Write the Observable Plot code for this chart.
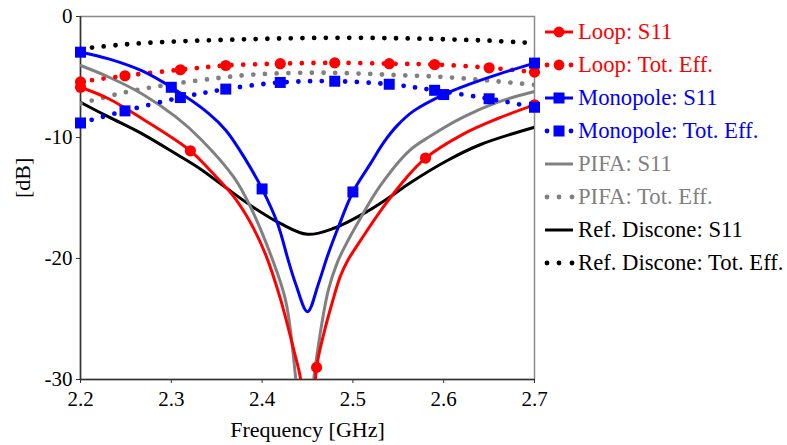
<!DOCTYPE html>
<html><head><meta charset="utf-8">
<script src="https://cdn.jsdelivr.net/npm/d3@7"></script>
<script src="https://cdn.jsdelivr.net/npm/@observablehq/plot@0.6"></script>
<style>
body{margin:0;background:#fff;}
#wrap{position:relative;width:787px;height:445px;font-family:"Liberation Serif","Times New Roman",serif;}
#wrap svg, #wrap svg text{font-family:"Liberation Serif","Times New Roman",serif !important;}
#legend{position:absolute;left:543px;top:16px;}
.row{height:32.9px;display:flex;align-items:center;font-size:22.7px;white-space:nowrap;}
.row svg{margin-right:3px;flex:none;}
</style></head><body><div id="wrap"><div id="legend"></div></div>
<script>
// ---- data (frequency GHz, dB) ----
const xTicks = [2.2, 2.3, 2.4, 2.5, 2.6, 2.7];
const yTicks = [0, -10, -20, -30];

const loopS11 = [[2.20,-5.85],[2.231,-6.8],[2.268,-8.45],[2.321,-11.1],[2.345,-12.9],[2.369,-14.9],[2.387,-17.0],[2.404,-19.7],[2.42,-23.3],[2.435,-27.6],[2.443,-30.2],[2.452,-38],[2.46,-29.0],[2.468,-26.2],[2.477,-23.7],[2.486,-21.5],[2.494,-20.2],[2.512,-18.1],[2.534,-15.7],[2.558,-13.4],[2.58,-11.7],[2.622,-9.7],[2.659,-8.45],[2.70,-7.3]];
const loopS11Markers = [[2.20,-5.85],[2.321,-11.1],[2.46,-29.0],[2.58,-11.7],[2.70,-7.3]];
const loopEff = [[2.20,-5.4],[2.249,-4.9],[2.31,-4.4],[2.36,-4.05],[2.42,-3.9],[2.48,-3.83],[2.54,-3.9],[2.59,-3.97],[2.65,-4.24],[2.70,-4.6]];

const monoS11 = [[2.20,-2.95],[2.231,-3.5],[2.268,-4.5],[2.30,-5.85],[2.341,-8.0],[2.36,-9.4],[2.38,-11.6],[2.40,-14.25],[2.417,-17.1],[2.429,-20.2],[2.437,-22.1],[2.45,-24.4],[2.462,-22.1],[2.472,-19.8],[2.484,-17.4],[2.50,-14.5],[2.519,-12.2],[2.534,-10.4],[2.549,-9.0],[2.567,-7.8],[2.60,-6.45],[2.63,-5.55],[2.659,-4.8],[2.70,-3.85]];
const monoS11Markers = [[2.20,-2.95],[2.30,-5.85],[2.40,-14.25],[2.50,-14.5],[2.60,-6.45],[2.70,-3.85]];
const monoEff = [[2.20,-8.8],[2.249,-7.8],[2.31,-6.7],[2.36,-6.0],[2.42,-5.45],[2.48,-5.35],[2.54,-5.6],[2.59,-6.1],[2.65,-6.8],[2.70,-7.5]];

const pifaS11 = [[2.20,-4.05],[2.231,-5.0],[2.268,-6.4],[2.305,-8.3],[2.332,-10.1],[2.369,-13.3],[2.387,-15.7],[2.411,-20.0],[2.426,-23.5],[2.437,-29.9],[2.446,-38],[2.457,-29.9],[2.464,-26.2],[2.473,-22.6],[2.483,-20.3],[2.494,-18.6],[2.505,-17.1],[2.53,-14.0],[2.562,-11.1],[2.585,-9.9],[2.622,-8.3],[2.659,-7.1],[2.70,-6.2]];
const pifaEff = [[2.20,-7.2],[2.25,-6.25],[2.30,-5.6],[2.35,-5.1],[2.39,-4.8],[2.45,-4.65],[2.50,-4.7],[2.55,-4.85],[2.60,-5.0],[2.65,-5.3],[2.70,-5.65]];

const discS11 = [[2.20,-7.1],[2.231,-8.3],[2.268,-9.7],[2.305,-11.35],[2.332,-12.6],[2.361,-14.2],[2.391,-15.8],[2.42,-17.1],[2.45,-18.0],[2.479,-17.5],[2.516,-16.1],[2.541,-14.9],[2.562,-13.8],[2.604,-11.9],[2.64,-10.6],[2.70,-9.15]];
const discEff = [[2.20,-2.67],[2.25,-2.3],[2.30,-2.08],[2.35,-1.95],[2.40,-1.85],[2.45,-1.78],[2.50,-1.76],[2.55,-1.8],[2.60,-1.88],[2.65,-2.0],[2.70,-2.2]];

const RED = "#ff0000", BLUE = "#0000ff", GRAY = "#808080", BLACK = "#000000";

const series = [
  {name:"Loop: S11", color:RED, data:loopS11, markers:loopS11Markers, symbol:"circle", dotted:false},
  {name:"Loop: Tot. Eff.", color:RED, data:loopEff, markers:loopEff, symbol:"circle", dotted:true},
  {name:"Monopole: S11", color:BLUE, data:monoS11, markers:monoS11Markers, symbol:"square", dotted:false},
  {name:"Monopole: Tot. Eff.", color:BLUE, data:monoEff, markers:monoEff, symbol:"square", dotted:true},
  {name:"PIFA: S11", color:GRAY, data:pifaS11, markers:null, symbol:null, dotted:false},
  {name:"PIFA: Tot. Eff.", color:GRAY, data:pifaEff, markers:null, symbol:null, dotted:true},
  {name:"Ref. Discone: S11", color:BLACK, data:discS11, markers:null, symbol:null, dotted:false},
  {name:"Ref. Discone: Tot. Eff.", color:BLACK, data:discEff, markers:null, symbol:null, dotted:true}
];

const DASH = "0 11.7";
const drawOrder = [6,7,4,5,0,1,2,3];
const lineMarks = [], dotMarks = [];
for (const i of drawOrder) {
  const s = series[i];
  lineMarks.push(Plot.line(s.data, {
    x: d => d[0], y: d => d[1], stroke: s.color, curve: "catmull-rom", clip: true,
    strokeWidth: s.dotted ? 4.8 : 3,
    strokeDasharray: s.dotted ? DASH : null,
    strokeLinecap: "round", strokeLinejoin: "round"
  }));
  if (s.markers) {
    dotMarks.push(Plot.dot(s.markers, {
      x: d => d[0], y: d => d[1], fill: s.color, stroke: "none",
      symbol: s.symbol, r: s.symbol === "square" ? 6.2 : 5.6
    }));
  }
}

const FONT = '"Liberation Serif","Times New Roman",serif';
const chart = Plot.plot({
  width: 787, height: 445,
  marginLeft: 80, marginRight: 253, marginTop: 16, marginBottom: 66,
  style: {fontSize: "21px", color: "#000", background: "transparent", overflow: "visible"},
  x: {domain: [2.2, 2.7]},
  y: {domain: [-30, 0]},
  marks: [
    Plot.frame({stroke: "#8a8a8a", strokeWidth: 1.5}),
    Plot.axisX({ticks: xTicks, tickSize: 4, tickPadding: 8, label: null, tickFormat: d => d.toFixed(1), stroke: "#333"}),
    Plot.axisY({ticks: yTicks, tickSize: 4, tickPadding: 4, label: null, tickFormat: d => String(d), stroke: "#333"}),
    Plot.ruleX([xTicks[0]], {stroke: "#333", strokeWidth: 1.5}),
    Plot.ruleY([yTicks[yTicks.length - 1]], {stroke: "#333", strokeWidth: 1.5}),
    ...lineMarks,
    ...dotMarks,
    Plot.text(["[dB]"], {text: d => d, frameAnchor: "left", dx: -58, rotate: -90, fontSize: 22}),
    Plot.text(["Frequency [GHz]"], {text: d => d, frameAnchor: "bottom", dy: 57, fontSize: 22})
  ]
});
// force serif on every text node of the chart
d3.select(chart).style("font-family", FONT);
d3.select(chart).selectAll("g, text, tspan").attr("font-family", null).style("font-family", FONT);
document.getElementById("wrap").prepend(chart);

// ---- legend ----
const legend = d3.select("#legend");
for (const s of series) {
  const row = legend.append("div").attr("class", "row").style("color", s.color);
  const svg = row.append("svg").attr("width", 32).attr("height", 20);
  if (s.dotted) {
    const xs = s.markers ? [4, 28] : [4, 16, 29];
    for (const x of xs) svg.append("circle").attr("cx", x).attr("cy", 10).attr("r", 2.4).attr("fill", s.color);
  } else {
    svg.append("line").attr("x1", 2).attr("x2", 30).attr("y1", 10).attr("y2", 10)
      .attr("stroke", s.color).attr("stroke-width", 3);
  }
  if (s.markers) {
    if (s.symbol === "circle") svg.append("circle").attr("cx", 16).attr("cy", 10).attr("r", 5.4).attr("fill", s.color);
    else svg.append("rect").attr("x", 10.5).attr("y", 4.5).attr("width", 11).attr("height", 11).attr("fill", s.color);
  }
  row.append("span").text(s.name);
}
</script>
</body></html>
